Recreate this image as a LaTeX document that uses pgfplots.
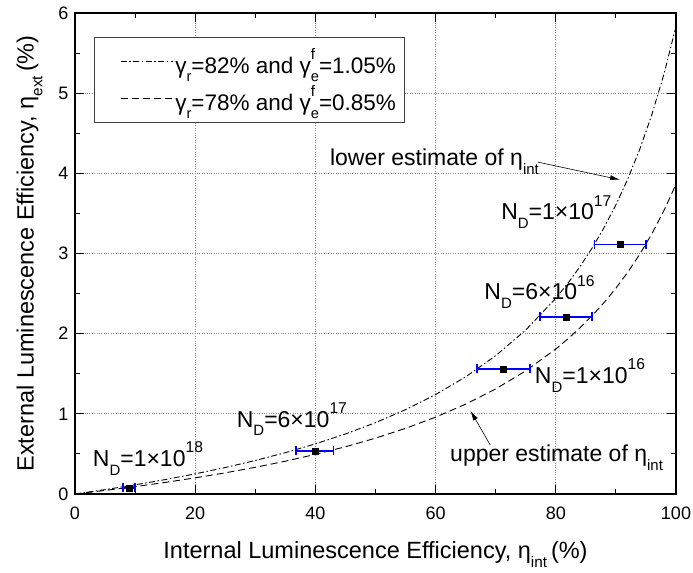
\documentclass[border=0pt]{standalone}
\usepackage{fontspec}
\setmainfont{Liberation Sans}
\usepackage{graphicx}
\usepackage{pgfplots}
\pgfplotsset{compat=1.18}
\usetikzlibrary{arrows.meta}
\definecolor{gridblue}{RGB}{120,120,255}
\definecolor{barblue}{RGB}{0,0,255}
\newcommand{\sbs}[1]{\raisebox{-0.38em}{\scalebox{0.65}{#1}}}
\newcommand{\sps}[1]{\raisebox{0.6em}{\scalebox{0.68}{#1}}}
\newcommand{\supsub}[2]{\rlap{\sps{#1}}\sbs{#2}}
\newcommand{\ND}[2]{N\sbs{D}=#1×10\sps{#2}}
\pgfplotstableread{
x y
0 0
5 0.0547
10 0.1144
15 0.1796
20 0.2512
25 0.3302
30 0.4178
35 0.5154
40 0.625
45 0.7488
50 0.8898
55 1.0519
60 1.2402
65 1.4615
70 1.7254
75 2.0455
80 2.4419
82 2.628
84 2.834
86 3.063
88 3.319
90 3.607
92 3.933
94 4.306
96 4.737
98 5.239
100 5.833
}\upcurve
\pgfplotstableread{
x y
0 0
5 0.0442
10 0.0922
15 0.1444
20 0.2014
25 0.264
30 0.3329
35 0.4092
40 0.4942
45 0.5894
50 0.6967
55 0.8187
60 0.9586
65 1.1207
70 1.3106
75 1.5361
80 1.8085
82 1.934
84 2.071
86 2.221
88 2.385
90 2.567
92 2.769
94 2.995
96 3.248
98 3.536
100 3.864
}\lowcurve
\pgfplotstableread{
x y ex
9.0 0.075 1.0
39.9 0.54 3.15
71.3 1.56 4.4
81.7 2.21 4.35
90.7 3.11 4.3
}\meas
\begin{document}
\begin{tikzpicture}
\begin{axis}[
  name=ax, scale only axis, width=601bp, height=481bp,
  xmin=0, xmax=100, ymin=0, ymax=6,
  xtick={0,20,...,100}, ytick={0,1,...,6},
  minor x tick num=1, minor y tick num=1,
  tick align=inside,
  major tick length=9bp, minor tick length=5bp,
  tick style={black, line width=1bp},
  axis line style={line width=1.2bp},
  grid=major,
  major grid style={gridblue, dotted, line width=0.8bp},
  /pgf/number format/assume math mode=true,
  ticklabel style={font=\fontsize{18bp}{20bp}\selectfont},
  xticklabel style={anchor=base, yshift=-25.5bp},
  yticklabel style={anchor=east, xshift=-3bp},
  xlabel={Internal Luminescence Efficiency, η\sbs{int}\,(\%)},
  ylabel={External Luminescence Efficiency, η\sbs{ext}\,(\%)},
  xlabel style={font=\fontsize{23.5bp}{26bp}\selectfont, at={(axis description cs:0.5,-0.1351)}, anchor=base},
  ylabel style={font=\fontsize{23.5bp}{26bp}\selectfont, at={(axis description cs:-0.069,0.5)}, anchor=base},
  legend style={at={(axis description cs:0.0316,0.950)}, anchor=north west,
    draw=black!75, line width=0.8bp, fill=white,
    font=\fontsize{22.5bp}{26bp}\selectfont,
    inner xsep=6bp, inner ysep=9bp, row sep=7bp},
  legend cell align=left,
  legend image code/.code={\path (-20bp,0bp); \draw[#1] (0bp,0bp) -- (52bp,0bp);},
]
\addplot[black, line width=0.9bp, dash pattern=on 6bp off 2.5bp on 1.5bp off 2.5bp] table[x=x,y=y] {\upcurve};
\addlegendentry{γ\sbs{r}=82\% and γ\supsub{f}{e}=1.05\%}
\addplot[black, line width=0.9bp, dash pattern=on 7bp off 4bp] table[x=x,y=y] {\lowcurve};
\addlegendentry{γ\sbs{r}=78\% and γ\supsub{f}{e}=0.85\%}
\addplot[forget plot, only marks, mark=square*, mark size=3bp, black,
  error bars/.cd, x dir=both, x explicit,
  error bar style={draw=barblue, color=barblue, line width=1.6bp},
  error mark=|, error mark options={draw=barblue, color=barblue, mark size=4.5bp, line width=1.5bp}]
  table[x=x, y=y, x error=ex] {\meas};
\begin{scope}[every node/.style={inner sep=0pt, anchor=base west, font=\fontsize{23bp}{26bp}\selectfont}]
\node at (axis cs:70.9,3.42) {\ND{1}{17}};
\node at (axis cs:68.1,2.42) {\ND{6}{16}};
\node at (axis cs:76.5,1.38) {\ND{1}{16}};
\node at (axis cs:26.9,0.835) {\ND{6}{17}};
\node at (axis cs:2.95,0.34) {\ND{1}{18}};
\node at (axis cs:42.4,4.10) {lower estimate of η\sbs{int}};
\node at (axis cs:62.4,0.40) {upper estimate of η\sbs{int}};
\end{scope}
\draw[-{Latex[length=10bp,width=5bp]}, line width=0.6bp] (axis cs:77.0,4.14) -- (axis cs:90.7,3.92);
\draw[-{Latex[length=10bp,width=5bp]}, line width=0.6bp] (axis cs:69.1,0.61) -- (axis cs:65.8,1.04);
\end{axis}
\pgfresetboundingbox
\path ([shift={(-75bp,-79bp)}]ax.south west) rectangle ([shift={(17bp,13bp)}]ax.north east);
\end{tikzpicture}
\end{document}
